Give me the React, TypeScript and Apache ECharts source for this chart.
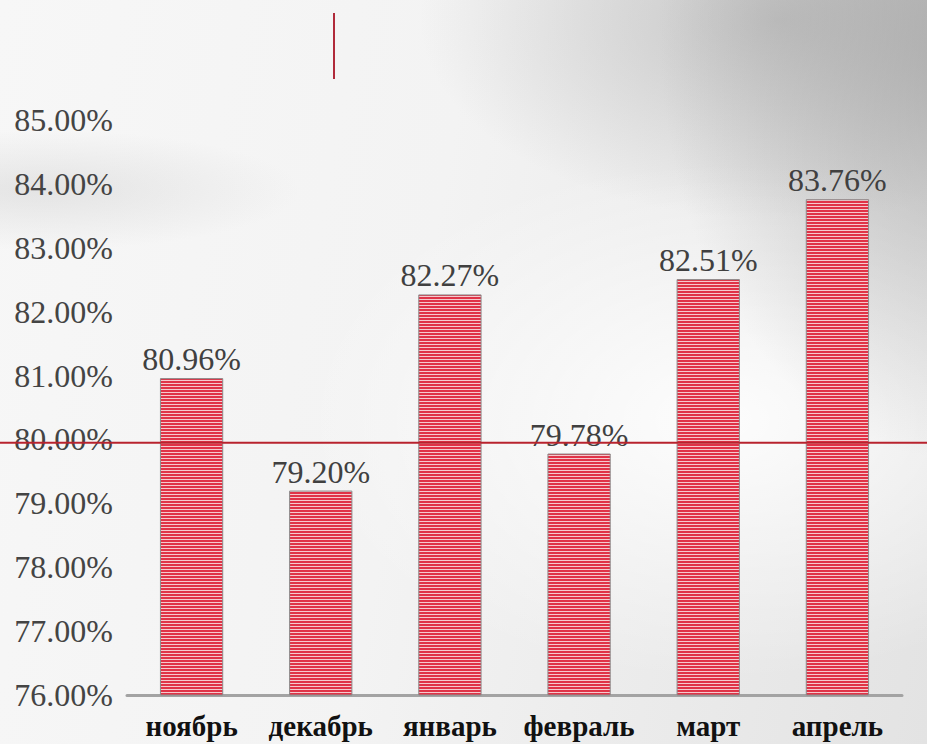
import React, { useEffect, useRef } from "react";
import * as echarts from "echarts";

const categories = ["ноябрь", "декабрь", "январь", "февраль", "март", "апрель"];
const values = [80.96, 79.2, 82.27, 79.78, 82.51, 83.76];
const yMin = 76;
const yMax = 85;
const yInterval = 1;
const thresholdValue = 79.95;

const SERIF = "Times New Roman";

function makeStripePattern(): HTMLCanvasElement {
  const c = document.createElement("canvas");
  c.width = 4;
  c.height = 3;
  const ctx = c.getContext("2d")!;
  ctx.fillStyle = "#e03347";
  ctx.fillRect(0, 0, 4, 2);
  ctx.fillStyle = "#f6c9cd";
  ctx.fillRect(0, 2, 4, 1);
  return c;
}

export default function App() {
  const ref = useRef<HTMLDivElement>(null);
  useEffect(() => {
    document.body.style.margin = "0";
    const chart = echarts.init(ref.current!, undefined, { renderer: "svg" });
    const pattern = makeStripePattern();
    chart.setOption({
      animation: false,
      grid: { left: 127, right: 25, top: 120, bottom: 49 },
      xAxis: {
        type: "category",
        data: categories,
        axisLine: { lineStyle: { color: "#a3a3a3", width: 3, cap: "round" } },
        axisTick: { show: false },
        axisLabel: {
          interval: 0,
          color: "#111",
          fontFamily: SERIF,
          fontWeight: "bold",
          fontSize: 29,
          margin: 16,
        },
      },
      yAxis: {
        type: "value",
        min: yMin,
        max: yMax,
        interval: yInterval,
        splitLine: { show: false },
        axisLine: { show: false },
        axisTick: { show: false },
        axisLabel: {
          color: "#444",
          fontFamily: SERIF,
          fontSize: 32,
          margin: 14,
          formatter: (v: number) => v.toFixed(2) + "%",
        },
      },
      series: [
        {
          type: "bar",
          data: values,
          barWidth: "49%",
          itemStyle: {
            color: { image: pattern, repeat: "repeat" } as any,
            borderColor: "#8c8c8c",
            borderWidth: 1,
          },
          label: {
            show: true,
            position: "top",
            distance: 3,
            color: "#404040",
            fontFamily: SERIF,
            fontSize: 32,
            formatter: (p: any) => p.value.toFixed(2) + "%",
          },
        },
      ],
    });
    const y = chart.convertToPixel({ yAxisIndex: 0 }, thresholdValue) as number;
    chart.setOption({
      graphic: [
        {
          type: "line",
          shape: { x1: 0, y1: y, x2: 927, y2: y },
          style: { stroke: "#b8232e", lineWidth: 2 },
          z: 100,
        },
        {
          type: "line",
          shape: { x1: 334, y1: 13, x2: 334, y2: 79 },
          style: { stroke: "#b02a3a", lineWidth: 2 },
          z: 100,
        },
      ],
    });
    return () => chart.dispose();
  }, []);
  return (
    <div
      ref={ref}
      style={{
        position: "absolute",
        left: 0,
        top: 0,
        width: 927,
        height: 744,
        background:
          "radial-gradient(ellipse 300px 420px at 960px 40px, rgba(150,150,150,0.6), rgba(150,150,150,0) 100%)," +
          "radial-gradient(ellipse 360px 200px at 780px 20px, rgba(165,165,165,0.55), rgba(165,165,165,0) 100%)," +
          "radial-gradient(ellipse 260px 60px at 40px 190px, rgba(200,200,200,0.4), rgba(200,200,200,0) 100%)," +
          "radial-gradient(ellipse 420px 260px at 720px 420px, rgba(255,255,255,0.9), rgba(255,255,255,0) 100%)," +
          "linear-gradient(100deg, #f7f7f7 0%, #f3f3f3 45%, #e3e3e3 100%)",
      }}
    />
  );
}
